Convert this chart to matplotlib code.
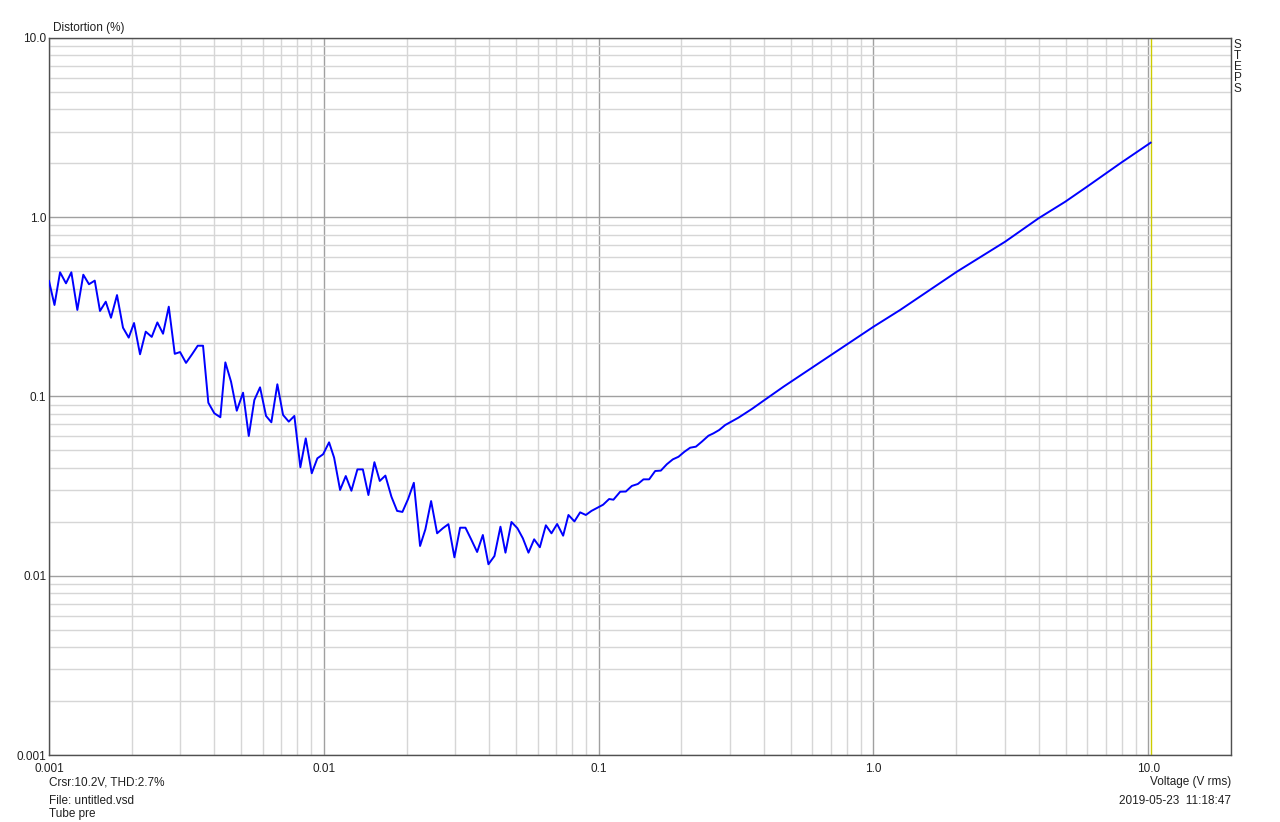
import matplotlib.pyplot as plt
from matplotlib.ticker import FixedLocator, LogLocator, NullFormatter

plt.rcParams['font.family'] = ['Liberation Sans', 'DejaVu Sans']

# swept input level (V rms)
voltage = [
    0.001000, 0.001047, 0.001097, 0.001153, 0.001206, 0.001268, 0.001333, 0.001398,
    0.001467, 0.001533, 0.001609, 0.001681, 0.001768, 0.001859, 0.001950, 0.002039,
    0.002144, 0.002249, 0.002365, 0.002479, 0.002600, 0.002728, 0.002868, 0.002998,
    0.003152, 0.003315, 0.003477, 0.003635, 0.003800, 0.003996, 0.004202, 0.004382,
    0.004596, 0.004822, 0.005083, 0.005332, 0.005588, 0.005861, 0.006163, 0.006443,
    0.006775, 0.007107, 0.007455, 0.007813, 0.008215, 0.008596, 0.009039, 0.009473,
    0.009938, 0.01045, 0.01090, 0.01146, 0.01202, 0.01260, 0.01325, 0.01387,
    0.01453, 0.01528, 0.01598, 0.01675, 0.01762, 0.01848, 0.01932, 0.02026,
    0.02126, 0.02240, 0.02342, 0.02457, 0.02584, 0.02710, 0.02840, 0.02987,
    0.03133, 0.03276, 0.03436, 0.03613, 0.03790, 0.03972, 0.04177, 0.04393,
    0.04581, 0.04817, 0.05065, 0.05300, 0.05555, 0.05826, 0.06111, 0.06426,
    0.06735, 0.07063, 0.07427, 0.07765, 0.08165, 0.08564, 0.08983, 0.09415,
    0.0990, 0.1038, 0.1092, 0.1132, 0.1198, 0.1256, 0.1321, 0.1389,
    0.1456, 0.1527, 0.1606, 0.1684, 0.1771, 0.1862, 0.1952, 0.2053,
    0.2153, 0.2259, 0.2375, 0.2509, 0.2617, 0.2745, 0.2887, 0.3053,
    0.3227, 0.3414, 0.3611, 0.3816, 0.3980, 0.4706, 0.6051, 1.000,
    1.251, 2.012, 3.016, 3.989, 4.988, 5.983, 7.910, 10.2,
]

# THD+N (%)
distortion = [
    0.441, 0.324, 0.493, 0.428, 0.493, 0.304, 0.478, 0.423,
    0.443, 0.300, 0.338, 0.275, 0.368, 0.242, 0.213, 0.257,
    0.172, 0.230, 0.215, 0.259, 0.224, 0.317, 0.173, 0.177,
    0.154, 0.172, 0.192, 0.192, 0.0923, 0.0806, 0.0766, 0.155,
    0.121, 0.0833, 0.105, 0.0602, 0.0956, 0.1125, 0.0779, 0.0718,
    0.117, 0.0789, 0.0724, 0.0779, 0.0403, 0.0584, 0.0373, 0.0452,
    0.0476, 0.0555, 0.0456, 0.0301, 0.0360, 0.0298, 0.0392, 0.0392,
    0.0282, 0.0430, 0.0338, 0.0362, 0.0276, 0.0230, 0.0227, 0.0268,
    0.0330, 0.01466, 0.01816, 0.0261, 0.01725, 0.0184, 0.0194, 0.01267,
    0.01854, 0.01854, 0.01597, 0.01357, 0.01688, 0.01159, 0.01288, 0.01878,
    0.01345, 0.01995, 0.0184, 0.01618, 0.01345, 0.01597, 0.01442, 0.01912,
    0.01725, 0.01944, 0.01673, 0.02183, 0.0201, 0.02258, 0.02183, 0.0230,
    0.02396, 0.0249, 0.0268, 0.02656, 0.02943, 0.0295, 0.0317, 0.0325,
    0.0345, 0.0345, 0.0384, 0.0386, 0.0419, 0.0446, 0.0461, 0.0492,
    0.0518, 0.0525, 0.0560, 0.0604, 0.0623, 0.0650, 0.0693, 0.0727,
    0.0762, 0.0806, 0.0852, 0.0905, 0.0947, 0.1134, 0.1467, 0.245,
    0.304, 0.497, 0.731, 0.987, 1.221, 1.480, 2.000, 2.606,
]

cursor_v = 10.2
x_ticks = [0.001, 0.01, 0.1, 1.0, 10.0]
x_labels = ["0.001", "0.01", "0.1", "1.0", "10.0"]
y_ticks = [0.001, 0.01, 0.1, 1.0, 10.0]
y_labels = ["0.001", "0.01", "0.1", "1.0", "10.0"]

txt_color = "#202020"
fs = 8.5

fig = plt.figure(figsize=(12.8, 8.22), dpi=100)
ax = fig.add_axes([49/1280, 1-755/822, (1231-49)/1280, (755-38)/822])

ax.set_xscale("log")
ax.set_yscale("log")
ax.set_xlim(0.001, 20)
ax.set_ylim(0.001, 10)

ax.xaxis.set_major_locator(FixedLocator(x_ticks))
ax.yaxis.set_major_locator(FixedLocator(y_ticks))
ax.set_xticklabels(x_labels)
ax.set_yticklabels(y_labels)
ax.xaxis.set_minor_locator(LogLocator(base=10, subs=range(2, 10), numticks=20))
ax.yaxis.set_minor_locator(LogLocator(base=10, subs=range(2, 10), numticks=20))
ax.xaxis.set_minor_formatter(NullFormatter())
ax.yaxis.set_minor_formatter(NullFormatter())

ax.grid(which="major", color="#a0a0a0", lw=1.0)
ax.grid(which="minor", color="#d6d6d6", lw=1.0)
ax.set_axisbelow(True)
ax.tick_params(which="both", length=0, labelsize=fs, labelcolor=txt_color)
ax.tick_params(axis="x", pad=6)
ax.tick_params(axis="y", pad=2)

for sp in ax.spines.values():
    sp.set_color("#505050")
    sp.set_linewidth(1.0)

ax.axvline(cursor_v, color="#cccc00", lw=1.0, zorder=2)
ax.plot(voltage, distortion, color="#0000ff", lw=1.4, zorder=3)

# annotations around the frame
fig.text(53/1280, 1-28/822, "Distortion (%)", fontsize=fs, color=txt_color, va="center")
fig.text(1234/1280, 1-39/822, "S\nT\nE\nP\nS", fontsize=fs, color=txt_color,
         va="top", ha="left", linespacing=0.88)
fig.text(1231/1280, 1-782/822, "Voltage (V rms)", fontsize=fs, color=txt_color,
         ha="right", va="center")
fig.text(49/1280, 1-782/822, "Crsr:10.2V, THD:2.7%", fontsize=fs, color=txt_color,
         va="center")
fig.text(49/1280, 1-801/822, "File: untitled.vsd", fontsize=fs, color=txt_color,
         va="center")
fig.text(49/1280, 1-814/822, "Tube pre", fontsize=fs, color=txt_color, va="center")
fig.text(1231/1280, 1-801/822, "2019-05-23  11:18:47", fontsize=fs, color=txt_color,
         ha="right", va="center")

fig.savefig("out.png", dpi=100)
